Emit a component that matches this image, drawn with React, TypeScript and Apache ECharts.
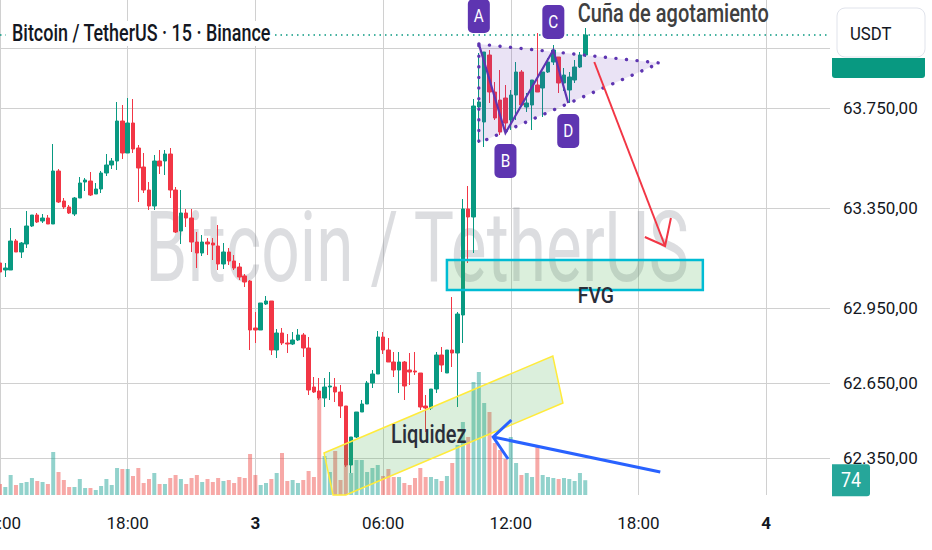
import { useEffect, useRef } from "react";
import * as echarts from "echarts";

// BTC/USDT 15m candles from day 2 12:00, [open, close, low, high]
const candles: number[][] = [
  [63130, 63094, 63062, 63130], [63102, 63110, 63074, 63130], [63102, 63218, 63102, 63270],
  [63218, 63174, 63174, 63226], [63174, 63210, 63150, 63214], [63206, 63278, 63190, 63338],
  [63278, 63322, 63274, 63322], [63322, 63294, 63290, 63330], [63298, 63310, 63290, 63326],
  [63310, 63286, 63286, 63322], [63286, 63498, 63286, 63606], [63498, 63374, 63370, 63506],
  [63378, 63354, 63346, 63390], [63354, 63330, 63326, 63362], [63326, 63390, 63318, 63394],
  [63390, 63450, 63390, 63474], [63454, 63462, 63418, 63470], [63458, 63402, 63398, 63494],
  [63406, 63426, 63406, 63450], [63426, 63490, 63410, 63498], [63490, 63522, 63478, 63566],
  [63522, 63538, 63506, 63550], [63538, 63698, 63502, 63774], [63698, 63570, 63546, 63762],
  [63570, 63690, 63570, 63790], [63690, 63586, 63570, 63786], [63590, 63510, 63374, 63602],
  [63514, 63422, 63410, 63570], [63422, 63358, 63342, 63454], [63358, 63538, 63342, 63562],
  [63538, 63518, 63486, 63582], [63538, 63566, 63482, 63582], [63566, 63422, 63390, 63590],
  [63422, 63254, 63250, 63434], [63258, 63330, 63206, 63422], [63330, 63310, 63274, 63346],
  [63310, 63214, 63174, 63346], [63214, 63170, 63110, 63254], [63170, 63214, 63158, 63242],
  [63214, 63206, 63162, 63230], [63210, 63202, 63142, 63230], [63198, 63126, 63102, 63282],
  [63126, 63174, 63106, 63210], [63174, 63138, 63122, 63190], [63138, 63110, 63102, 63162],
  [63114, 63074, 63062, 63130], [63078, 63054, 63034, 63086], [63058, 62862, 62782, 63062],
  [62870, 62862, 62810, 62934], [62862, 62970, 62862, 62970], [62966, 62978, 62962, 62998],
  [62978, 62782, 62762, 62978], [62782, 62850, 62750, 62866], [62850, 62810, 62802, 62870],
  [62810, 62806, 62770, 62846], [62806, 62822, 62802, 62854], [62822, 62842, 62818, 62866],
  [62842, 62790, 62754, 62850], [62790, 62622, 62602, 62834], [62634, 62614, 62610, 62674],
  [62618, 62590, 62582, 62670], [62590, 62634, 62554, 62670], [62634, 62638, 62582, 62694],
  [62634, 62614, 62574, 62670], [62614, 62558, 62510, 62642], [62558, 62322, 62314, 62558],
  [62322, 62434, 62290, 62434], [62434, 62534, 62430, 62534], [62534, 62566, 62534, 62582],
  [62566, 62650, 62566, 62658], [62650, 62686, 62630, 62702], [62686, 62834, 62686, 62858],
  [62834, 62782, 62766, 62854], [62782, 62734, 62734, 62830], [62734, 62702, 62674, 62774],
  [62702, 62734, 62610, 62774], [62734, 62638, 62582, 62738], [62702, 62694, 62642, 62770],
  [62698, 62694, 62682, 62774], [62690, 62554, 62542, 62690], [62558, 62550, 62454, 62602],
  [62550, 62626, 62542, 62626], [62626, 62762, 62610, 62774], [62762, 62722, 62694, 62794],
  [62690, 62782, 62690, 62782], [62782, 62770, 62714, 62994], [62770, 62926, 62554, 62934],
  [62922, 63346, 62810, 63386], [63346, 63314, 63130, 63438], [63314, 63758, 63170, 63786],
  [63754, 63774, 63610, 63970], [63694, 63974, 63594, 63974], [63962, 63814, 63770, 63982],
  [63814, 63710, 63702, 63854], [63782, 63654, 63642, 63902], [63790, 63690, 63654, 63842],
  [63702, 63802, 63662, 63822], [63802, 63894, 63702, 63934], [63894, 63762, 63754, 63902],
  [63754, 63770, 63734, 63810], [63762, 63862, 63662, 63862], [63842, 63814, 63814, 64050],
  [63830, 63894, 63714, 63894], [63894, 63934, 63890, 63950], [63934, 63982, 63922, 64002],
  [63954, 63850, 63810, 63954], [63850, 63882, 63818, 63910], [63822, 63874, 63770, 63894],
  [63862, 63914, 63850, 63942], [63914, 63962, 63910, 63974], [63962, 64042, 63954, 64070],
];

const volumes: number[] = [
  55, 40, 100, 50, 60, 65, 85, 70, 65, 55, 215, 115, 75, 40, 40, 80, 35, 35, 25, 45,
  80, 50, 135, 130, 130, 95, 135, 60, 80, 110, 55, 55, 85, 100, 80, 55, 85, 100, 65, 80,
  65, 85, 70, 75, 60, 90, 85, 205, 100, 50, 60, 80, 110, 210, 70, 75, 60,
  75, 120, 90, 490, 195, 115, 220, 75, 150, 110, 175, 175, 115, 135, 150, 95, 130, 90, 90,
  60, 50, 85, 135, 90, 90, 80, 70, 95, 160, 250, 365, 290, 565, 615, 460, 415, 260, 225,
  180, 290, 160, 100, 110, 90, 245, 100, 90, 85, 80, 85, 80, 70, 110, 74,
];

const priceGridLines = [62350, 62650, 62950, 63350, 63750, 63990];
const priceLabels = [62350, 62650, 62950, 63350, 63750];
const PRICE_MIN = 62202;
const PRICE_MAX = 64182;
const VOLUME_MAX = 2475;
const SLOT_COUNT = 157; // 15 min slots, 12:00 day 2 -> 03:00 day 4
const TICK_EVERY = 24; // one label every 6 hours

// drawings, as [candle index, price]
const wedgeCorners = [[90, 64006], [124, 63930], [90, 63610]];
const pivots = [
  { name: "A", at: [90, 64006], side: -1 },
  { name: "B", at: [95, 63650], side: 1 },
  { name: "C", at: [104, 63982], side: -1 },
  { name: "D", at: [106.8, 63770], side: 1 },
];
const wedgeTitleAt = [108.6, 64126];
const fvgZone = { from: 84, to: 132.1, top: 63142, bottom: 63022 };
const fvgLabelAt = [112, 62998];
const liquidityZone = [[60.9, 62370], [103.9, 62758], [105.8, 62570], [65.0, 62202], [62.6, 62202]];
const liquidityLabelAt = [80.6, 62442];
const downArrow = { from: [111.7, 63934], to: [125, 63198], head: [[121.2, 63234], [126.1, 63310]] };
const liquidityArrow = { from: [124.1, 62294], to: [92.7, 62434], head: [[96.1, 62502], [95.5, 62346]] };

const UP = "#089981";
const DOWN = "#f23645";
const VOL_UP = "rgba(38,166,154,0.5)";
const VOL_DOWN = "rgba(239,83,80,0.5)";
const PURPLE = "#5e35b1";
const FONT = "Roboto, 'Noto Sans', sans-serif";
const GRID = { left: 0, right: 102, top: 0, bottom: 55, containLabel: false, outerBoundsMode: "none" };

const pad = (n: number) => String(n).padStart(2, "0");
const timeSlots: string[] = [];
for (let i = 0; i < SLOT_COUNT; i++) {
  const m = 12 * 60 + i * 15;
  const day = 2 + Math.floor(m / 1440);
  const mm = m % 1440;
  timeSlots.push(mm === 0 ? String(day) : `${pad(Math.floor(mm / 60))}:${pad(mm % 60)}`);
}

const fmtPrice = (v: number) => {
  const [int, dec] = v.toFixed(2).split(".");
  return int.replace(/\B(?=(\d{3})+(?!\d))/g, ".") + "," + dec;
};

const onTick = (i: number) => i % TICK_EVERY === 0;

function baseOption() {
  const last = candles[candles.length - 1];
  return {
    animation: false,
    backgroundColor: "#ffffff",
    textStyle: { fontFamily: FONT },
    grid: [{ ...GRID }, { ...GRID }],
    xAxis: [
      {
        type: "category",
        gridIndex: 0,
        data: timeSlots,
        boundaryGap: false,
        axisLine: { show: false },
        axisTick: { show: false },
        axisLabel: { show: false },
        splitLine: { show: true, interval: onTick, lineStyle: { color: "#d0d0d0" } },
      },
      {
        type: "category",
        gridIndex: 1,
        data: timeSlots,
        boundaryGap: false,
        axisLine: { show: false },
        axisTick: { show: false },
        splitLine: { show: false },
        axisLabel: {
          interval: onTick,
          margin: 19,
          fontSize: 17,
          color: "#131722",
          alignMinLabel: "center",
          alignMaxLabel: "center",
          formatter: (v: string) => (v.includes(":") ? v : `{day|${v}}`),
          rich: { day: { fontSize: 17, fontWeight: "bold", color: "#131722" } },
        },
      },
    ],
    yAxis: [
      {
        type: "value",
        gridIndex: 0,
        position: "right",
        min: PRICE_MIN,
        max: PRICE_MAX,
        axisLine: { show: false },
        axisTick: { show: false, customValues: priceGridLines },
        axisLabel: {
          customValues: priceLabels,
          margin: 13,
          fontSize: 17,
          color: "#131722",
          formatter: fmtPrice,
        },
        splitLine: { show: true, lineStyle: { color: "#d0d0d0" } },
      },
      { type: "value", gridIndex: 1, min: 0, max: VOLUME_MAX, show: false },
    ],
    series: [
      {
        type: "bar",
        xAxisIndex: 1,
        yAxisIndex: 1,
        z: 1,
        barWidth: 4,
        data: volumes,
        itemStyle: {
          color: (p: any) => (candles[p.dataIndex][1] >= candles[p.dataIndex][0] ? VOL_UP : VOL_DOWN),
        },
      },
      {
        type: "candlestick",
        xAxisIndex: 0,
        yAxisIndex: 0,
        barWidth: 4,
        data: candles,
        itemStyle: { color: UP, color0: DOWN, borderColor: UP, borderColor0: DOWN, borderWidth: 1 },
        markLine: {
          silent: true,
          symbol: "none",
          label: { show: false },
          lineStyle: { color: UP, width: 1.5, type: [1.5, 4] },
          data: [{ yAxis: last[1] }],
        },
      },
    ],
  };
}

function buildOverlay(chart: echarts.ECharts) {
  const at = ([idx, price]: number[]) => {
    const i0 = Math.floor(idx);
    const a = chart.convertToPixel({ gridIndex: 0 }, [i0, price]) as number[];
    const b = chart.convertToPixel({ gridIndex: 0 }, [i0 + 1, price]) as number[];
    return [a[0] + (idx - i0) * (b[0] - a[0]), a[1]];
  };
  const text = (t: string, p: number[], size: number, opts: any = {}) => ({
    type: "text",
    x: p[0],
    y: p[1],
    z: opts.z ?? 30,
    scaleX: opts.scaleX ?? 1,
    silent: true,
    style: {
      text: t,
      fontSize: size,
      fontWeight: opts.weight ?? 500,
      fontFamily: FONT,
      fill: opts.fill ?? "#2a2e39",
      align: opts.align ?? "center",
      textAlign: opts.align ?? "center",
      verticalAlign: "middle",
      textVerticalAlign: "middle",
    },
  });

  const els: any[] = [];

  els.push(
    text("Bitcoin / TetherUS", [417, 248], 98, {
      z: 1,
      weight: 400,
      scaleX: 0.69,
      fill: "rgba(120,123,134,0.26)",
    })
  );

  // liquidity band
  els.push({
    type: "polygon",
    z: 10,
    silent: true,
    shape: { points: liquidityZone.map(at) },
    style: { fill: "rgba(76,175,80,0.2)", stroke: "#ffeb3b", lineWidth: 1.5 },
  });

  // FVG box
  const f1 = at([fvgZone.from, fvgZone.top]);
  const f2 = at([fvgZone.to, fvgZone.bottom]);
  els.push({
    type: "rect",
    z: 10,
    silent: true,
    shape: { x: f1[0], y: f1[1], width: f2[0] - f1[0], height: f2[1] - f1[1] },
    style: { fill: "rgba(76,175,80,0.2)", stroke: "#00bcd4", lineWidth: 2.5 },
  });

  // wedge
  els.push({
    type: "polygon",
    z: 11,
    silent: true,
    shape: { points: wedgeCorners.map(at) },
    style: {
      fill: "rgba(103,58,183,0.14)",
      stroke: PURPLE,
      lineWidth: 3.4,
      lineDash: [0.1, 10.5],
      lineCap: "round",
    },
  });
  els.push({
    type: "polyline",
    z: 12,
    silent: true,
    shape: { points: pivots.map((p) => at(p.at)) },
    style: { stroke: PURPLE, lineWidth: 2.2, fill: null },
  });
  pivots.forEach((p) => {
    const [x, y] = at(p.at);
    const cy = y + p.side * 28;
    els.push({
      type: "rect",
      z: 13,
      silent: true,
      shape: { x: x - 11, y: cy - 17, width: 22, height: 34, r: 5 },
      style: { fill: PURPLE },
    });
    els.push(text(p.name, [x, cy], 18, { z: 14, weight: 400, fill: "#ffffff", scaleX: 0.85 }));
  });

  // arrows
  const arrow = (a: any, color: string, width: number) => {
    const tip = at(a.to);
    els.push({
      type: "polyline",
      z: 15,
      silent: true,
      shape: { points: [at(a.from), tip] },
      style: { stroke: color, lineWidth: width, fill: null },
    });
    els.push({
      type: "polyline",
      z: 15,
      silent: true,
      shape: { points: [at(a.head[0]), tip, at(a.head[1])] },
      style: { stroke: color, lineWidth: width, fill: null },
    });
  };
  arrow(downArrow, DOWN, 2);
  arrow(liquidityArrow, "#2962ff", 3);

  els.push(text("Cuña de agotamiento", at(wedgeTitleAt), 25, { align: "left", scaleX: 0.8, fill: "#404040" }));
  els.push(text("FVG", at(fvgLabelAt), 22, { scaleX: 0.88 }));
  els.push(text("Liquidez", at(liquidityLabelAt), 25, { scaleX: 0.8 }));

  // header
  els.push({
    type: "rect",
    z: 40,
    silent: true,
    shape: { x: 6, y: 21, width: 268, height: 25 },
    style: { fill: "#ffffff" },
  });
  els.push(
    text("Bitcoin / TetherUS · 15 · Binance", [12, 33], 23, {
      z: 41,
      align: "left",
      scaleX: 0.78,
      fill: "#131722",
    })
  );

  // price scale badges
  els.push({
    type: "rect",
    z: 40,
    silent: true,
    shape: { x: 832, y: 58, width: 93, height: 20, r: [0, 0, 3, 3] },
    style: { fill: UP },
  });
  els.push({
    type: "rect",
    z: 41,
    silent: true,
    shape: { x: 837, y: 8, width: 88, height: 49, r: 8 },
    style: { fill: "#ffffff", stroke: "#e0e3eb", lineWidth: 1 },
  });
  els.push(text("USDT", [850, 33], 19, { z: 42, weight: 400, align: "left", scaleX: 0.88, fill: "#131722" }));

  const lastVol = volumes[volumes.length - 1];
  const vy = chart.convertToPixel({ yAxisIndex: 1 }, lastVol) as number;
  els.push({
    type: "rect",
    z: 40,
    silent: true,
    shape: { x: 832, y: vy - 16, width: 38, height: 32, r: [0, 3, 3, 0] },
    style: { fill: "#26a69a" },
  });
  els.push(text(String(lastVol), [851, vy], 21, { z: 41, weight: 400, scaleX: 0.85, fill: "#ffffff" }));

  return els;
}

export default function App() {
  const ref = useRef<HTMLDivElement | null>(null);

  useEffect(() => {
    if (!ref.current) return;
    const chart = echarts.init(ref.current, null, { renderer: "svg" });
    chart.setOption(baseOption());
    chart.setOption({ graphic: { elements: buildOverlay(chart) } });
    return () => {
      chart.dispose();
    };
  }, []);

  return (
    <div
      ref={ref}
      style={{ position: "absolute", left: 0, top: 0, width: 932, height: 550, background: "#ffffff" }}
    />
  );
}
